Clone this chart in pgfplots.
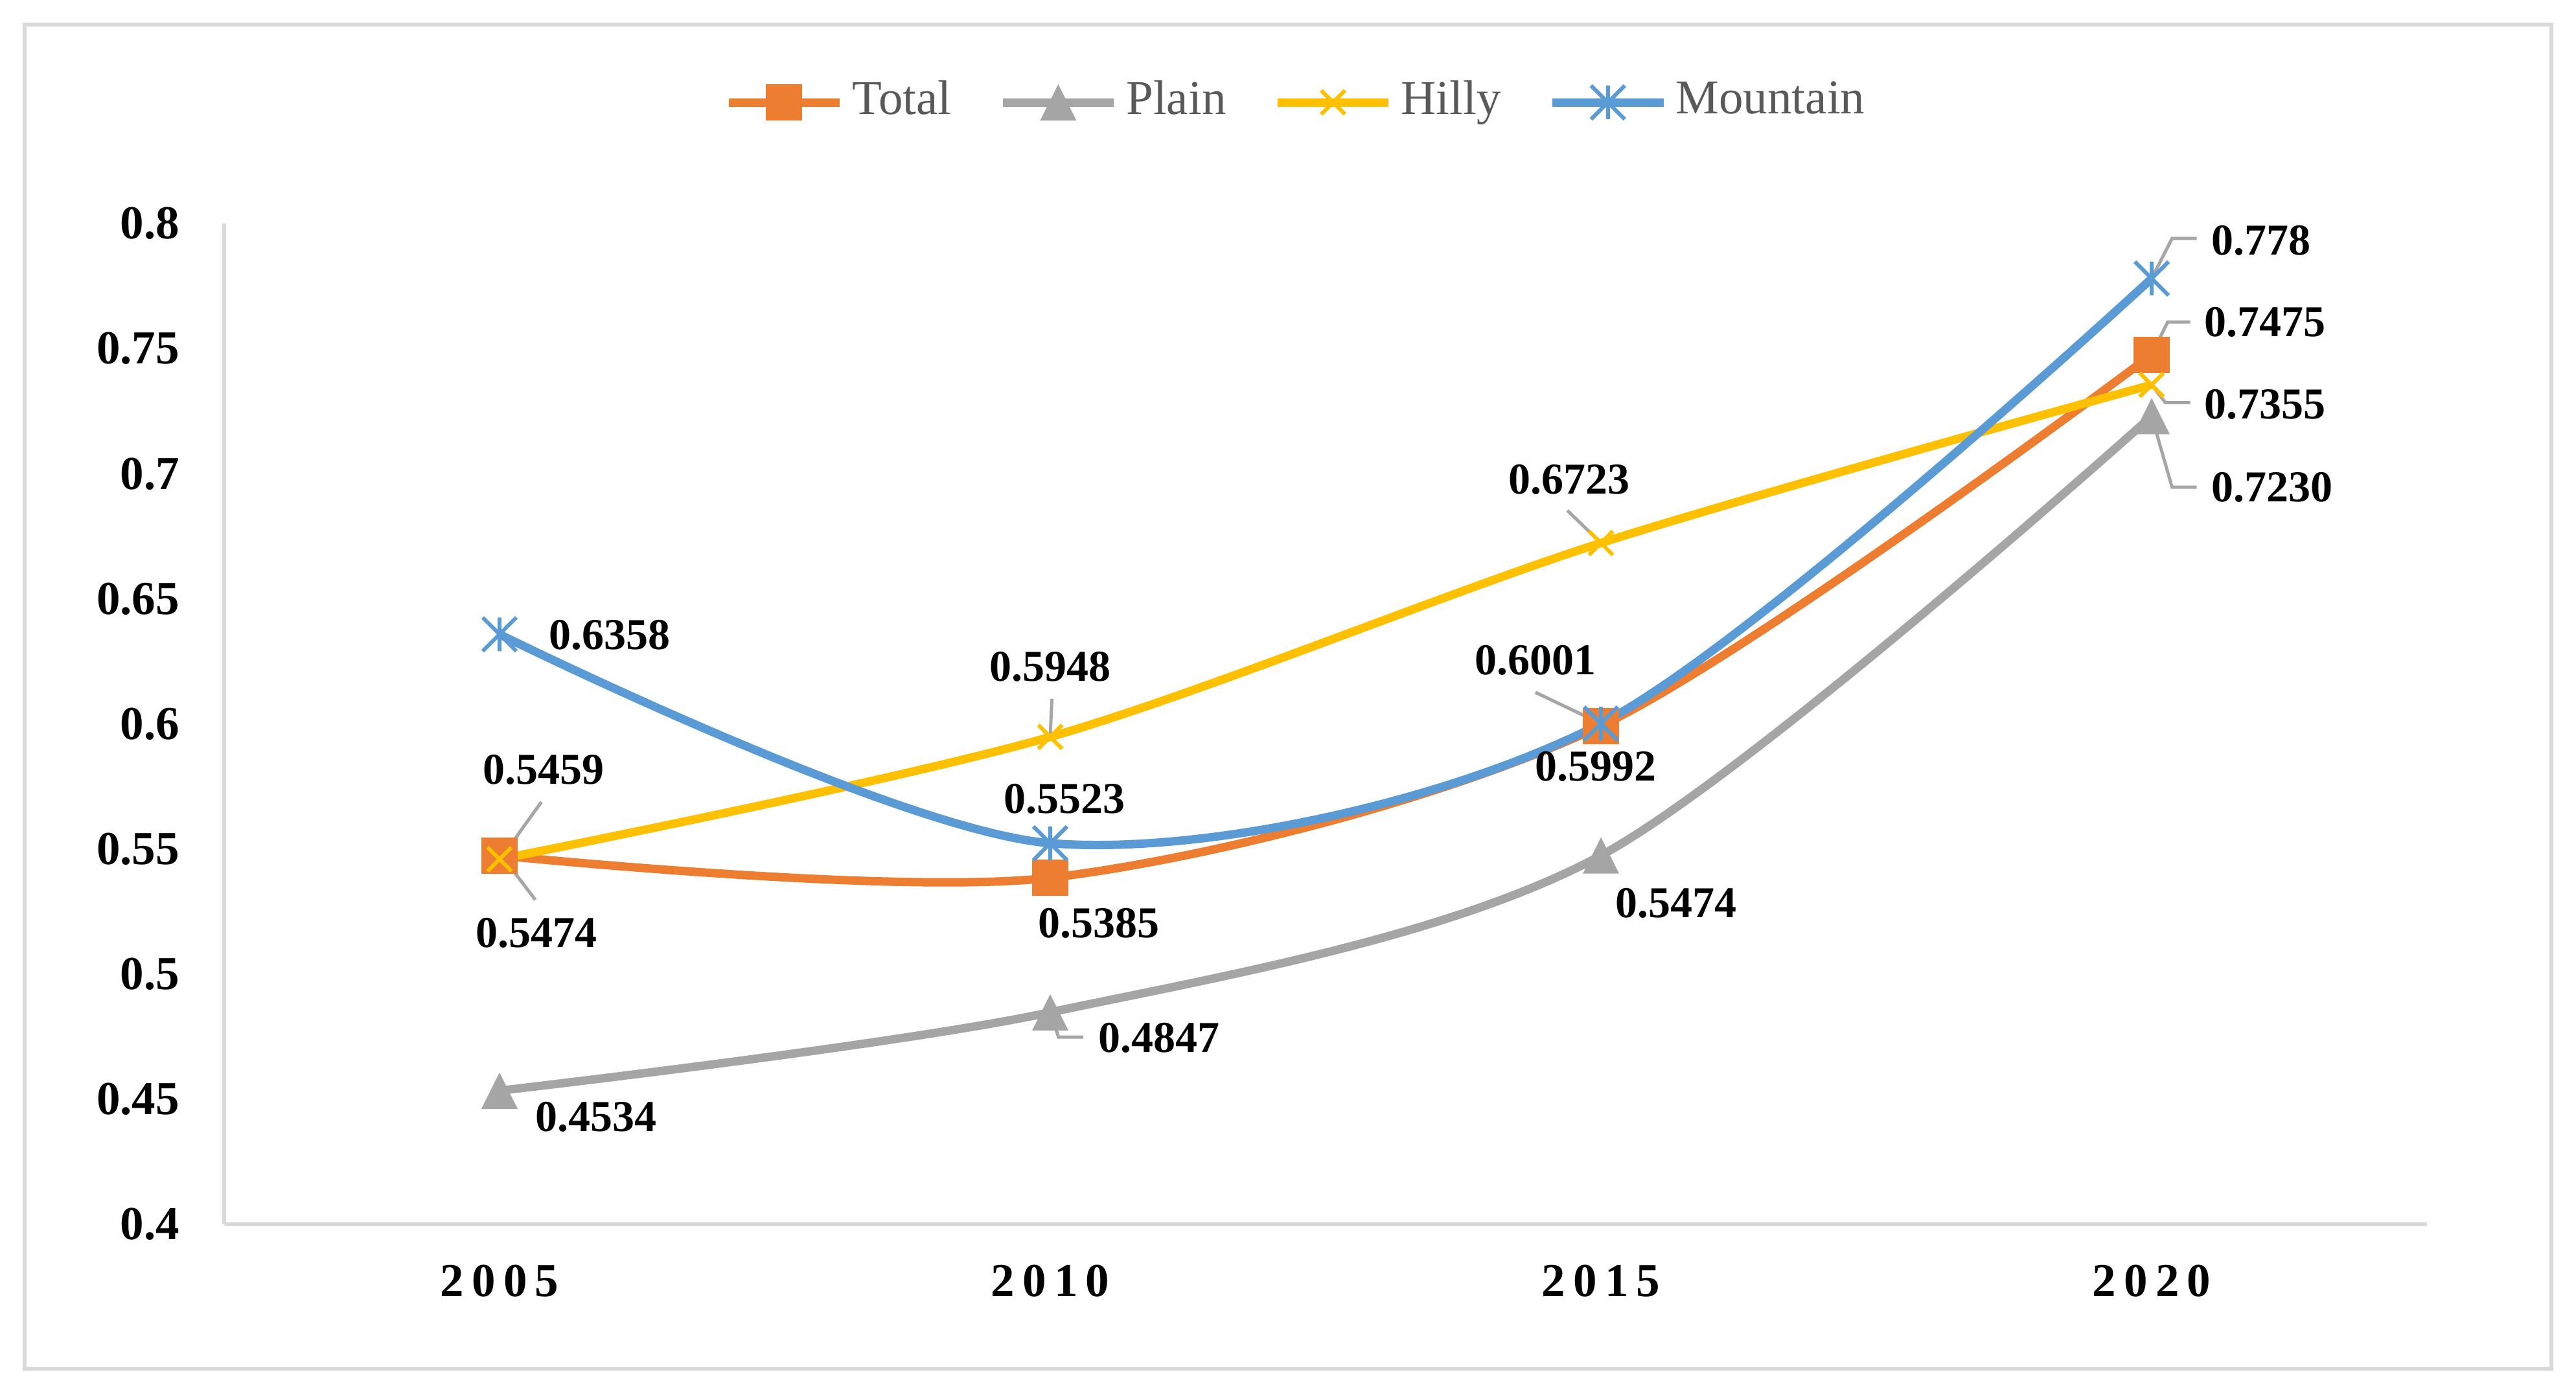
\documentclass[border=0pt]{standalone}
\usepackage{pgfplots}
\pgfplotsset{compat=1.18}
\usepackage{fontspec}
\setmainfont{Liberation Serif}
\definecolor{cTotal}{HTML}{ED7D31}
\definecolor{cPlain}{HTML}{A5A5A5}
\definecolor{cHilly}{HTML}{FFC000}
\definecolor{cMount}{HTML}{5B9BD5}
\definecolor{cLead}{HTML}{A6A6A6}
\definecolor{cAxis}{HTML}{D9D9D9}
\definecolor{cLegText}{HTML}{595959}
\pgfdeclareplotmark{xstar}{%
  \pgfpathmoveto{\pgfqpoint{-\pgfplotmarksize}{-\pgfplotmarksize}}%
  \pgfpathlineto{\pgfqpoint{\pgfplotmarksize}{\pgfplotmarksize}}%
  \pgfpathmoveto{\pgfqpoint{-\pgfplotmarksize}{\pgfplotmarksize}}%
  \pgfpathlineto{\pgfqpoint{\pgfplotmarksize}{-\pgfplotmarksize}}%
  \pgfpathmoveto{\pgfqpoint{0pt}{-\pgfplotmarksize}}%
  \pgfpathlineto{\pgfqpoint{0pt}{\pgfplotmarksize}}%
  \pgfusepathqstroke}
\pgfdeclareplotmark{etri}{%
  \pgfpathmoveto{\pgfqpoint{0pt}{\pgfplotmarksize}}%
  \pgfpathlineto{\pgfqpoint{-\pgfplotmarksize}{-\pgfplotmarksize}}%
  \pgfpathlineto{\pgfqpoint{\pgfplotmarksize}{-\pgfplotmarksize}}%
  \pgfpathclose\pgfusepathqfill}
\newcommand{\lab}{\fontsize{6.8}{7}\selectfont\bfseries}
\begin{document}
\begin{tikzpicture}
\path[use as bounding box] (0,0) rectangle (397.6pt,214.8pt);
\draw[cAxis, line width=0.6pt] (3.8pt,3.5pt) rectangle (393.8pt,211.0pt);
\begin{axis}[
  at={(34.6pt,25.8pt)}, anchor=south west,
  width=340pt, height=154.5pt, scale only axis,
  xmin=-0.5, xmax=3.5, ymin=0.4, ymax=0.8,
  xtick={0,1,2,3},
  xticklabels={2\,0\,0\,5,2\,0\,1\,0,2\,0\,1\,5,2\,0\,2\,0},
  ytick={0.4,0.45,0.5,0.55,0.6,0.65,0.7,0.75,0.8},
  yticklabels={0.4,0.45,0.5,0.55,0.6,0.65,0.7,0.75,0.8},
  axis x line*=bottom, axis y line*=left,
  axis line style={cAxis, line width=0.6pt, -},
  major tick length=0pt,
  tick style={draw=none},
  xticklabel style={font=\fontsize{7.3}{8}\selectfont\bfseries, anchor=center, yshift=-8.8pt, inner sep=0pt},
  yticklabel style={font=\fontsize{7.3}{8}\selectfont\bfseries, anchor=east, xshift=-6.7pt, inner sep=0pt},
  clip=false,
  legend style={at={(0.486,1.121)}, anchor=center, draw=none, fill=none,
    legend columns=-1, font=\fontsize{7.5}{9}\selectfont, text=cLegText,
    /tikz/every odd column/.style={column sep=1.3pt},
    /tikz/every even column/.style={column sep=7.3pt},
    inner sep=0pt, nodes={inner sep=0pt}},
  legend image code/.code={\draw[mark repeat=2,mark phase=2,#1] plot coordinates {(0pt,0pt)(8.55pt,0pt)(17.1pt,0pt)};},
]
% leader lines of Plain (below its markers)
\draw[cLead, line width=0.5pt] (axis cs:1,0.4847) -- (axis cs:1.015,0.4748) -- (axis cs:1.060,0.4748);
\draw[cLead, line width=0.5pt] (axis cs:3,0.723) -- (axis cs:3.037,0.6946) -- (axis cs:3.082,0.6946);

\addplot[smooth, cTotal, line width=1.3pt, mark=square*, mark size=2.7pt,
  mark options={solid, fill=cTotal, draw=cTotal, line width=0.2pt}]
  coordinates {(0,0.5474)(1,0.5385)(2,0.5992)(3,0.7475)};
\addlegendentry{Total}
\addplot[smooth, cPlain, line width=1.3pt, mark=etri, mark size=2.8pt,
  mark options={solid, fill=cPlain, draw=cPlain, line width=0.2pt}]
  coordinates {(0,0.4534)(1,0.4847)(2,0.5474)(3,0.7230)};
\addlegendentry{Plain}
\addplot[smooth, cHilly, line width=1.3pt, mark=x, mark size=2.6pt,
  mark options={solid, draw=cHilly, line width=0.6pt}]
  coordinates {(0,0.5459)(1,0.5948)(2,0.6723)(3,0.7355)};
\addlegendentry{Hilly}
\addplot[smooth, cMount, line width=1.3pt, mark=xstar, mark size=2.6pt,
  mark options={solid, draw=cMount, line width=0.6pt}]
  coordinates {(0,0.6358)(1,0.5523)(2,0.6001)(3,0.778)};
\addlegendentry{Mountain}

% other leader lines
\draw[cLead, line width=0.5pt] (axis cs:0.005,0.547) -- (axis cs:0.076,0.5688);
\draw[cLead, line width=0.5pt] (axis cs:0.005,0.547) -- (axis cs:0.065,0.5297);
\draw[cLead, line width=0.5pt] (axis cs:1,0.5948) -- (axis cs:1.003,0.61);
\draw[cLead, line width=0.5pt] (axis cs:2,0.6723) -- (axis cs:1.939,0.6853);
\draw[cLead, line width=0.5pt] (axis cs:2,0.6001) -- (axis cs:1.881,0.6126);
\draw[cLead, line width=0.5pt] (axis cs:3,0.778) -- (axis cs:3.037,0.794) -- (axis cs:3.082,0.794);
\draw[cLead, line width=0.5pt] (axis cs:3,0.7475) -- (axis cs:3.029,0.7606) -- (axis cs:3.070,0.7606);
\draw[cLead, line width=0.5pt] (axis cs:3,0.7355) -- (axis cs:3.025,0.7284) -- (axis cs:3.070,0.7284);

% data labels
\begin{scope}[every node/.style={inner sep=0pt, anchor=center, font=\lab}]
\node at (axis cs:0.200,0.6356) {0.6358};
\node at (axis cs:0.080,0.5817) {0.5459};
\node at (axis cs:0.067,0.5163) {0.5474};
\node at (axis cs:0.175,0.4430) {0.4534};
\node at (axis cs:1.000,0.6229) {0.5948};
\node at (axis cs:1.026,0.5701) {0.5523};
\node at (axis cs:1.088,0.5204) {0.5385};
\node at (axis cs:1.198,0.4744) {0.4847};
\node at (axis cs:1.942,0.6977) {0.6723};
\node at (axis cs:1.881,0.6255) {0.6001};
\node at (axis cs:1.990,0.5830) {0.5992};
\node at (axis cs:2.136,0.5284) {0.5474};
\node at (axis cs:3.199,0.7933) {0.778};
\node at (axis cs:3.206,0.7606) {0.7475};
\node at (axis cs:3.206,0.7278) {0.7355};
\node at (axis cs:3.219,0.6946) {0.7230};
\end{scope}
\end{axis}
\end{tikzpicture}
\end{document}
